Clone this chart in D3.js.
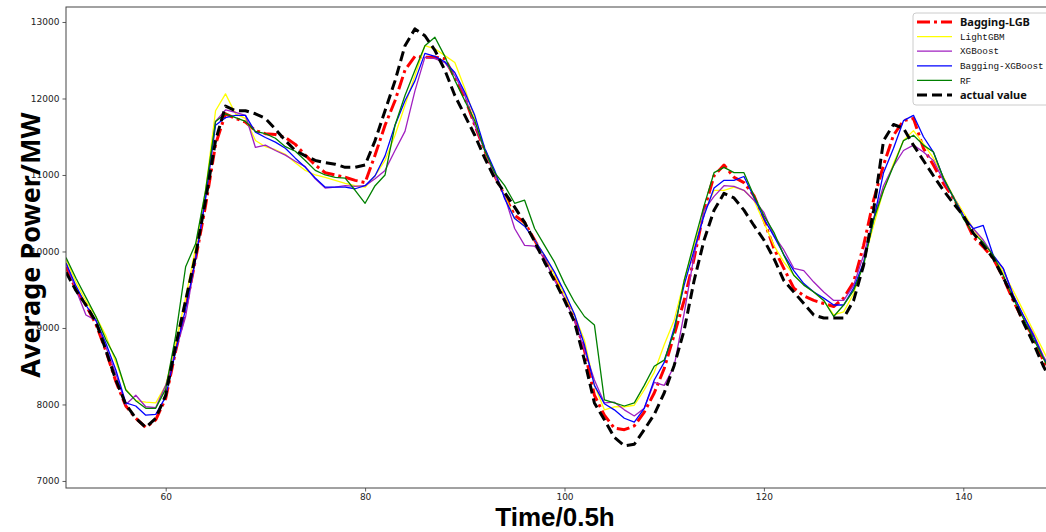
<!DOCTYPE html>
<html>
<head>
<meta charset="utf-8">
<script src="https://cdn.jsdelivr.net/npm/d3@7"></script>
<style>
  body { margin: 0; background: #fff; }
  svg { display: block; }
</style>
</head>
<body>
<script>
// time steps (half hours) 50..150
const steps = d3.range(50, 151);

// series values, one per step
const baggingLGB = [9800,9500,9300,9050,8700,8300,7980,7820,7700,7800,8080,8700,9250,9900,10600,11400,11800,11740,11690,11580,
  11540,11530,11490,11400,11260,11130,11030,11000,10970,10930,10900,11260,11650,11970,12370,12550,12540,12540,12520,12270,
  12010,11650,11320,10990,10730,10470,10380,10150,9910,9680,9430,9130,8710,8120,7860,7690,7670,7720,7900,8150,
  8470,8910,9360,9910,10540,10990,11130,10970,10900,10730,10410,10040,9780,9520,9420,9360,9320,9280,9390,9600,
  10080,10670,11130,11520,11710,11740,11350,11130,10890,10700,10470,10190,10060,9910,9660,9360,9100,8890,8580,8300,8050];
const lightGBM = [9900,9600,9350,9150,8900,8550,8200,8050,8030,8020,8250,8800,9400,10050,10800,11840,12060,11800,11740,11450,
  11370,11330,11270,11160,11060,11000,10970,10930,10890,10860,10840,10990,11190,11520,11910,12300,12690,12650,12560,12470,
  12130,11740,11320,10990,10730,10430,10340,10150,9950,9690,9430,9170,8840,8250,7930,7970,7970,7990,8190,8420,
  8780,9100,9620,10080,10510,10800,10800,10840,10800,10670,10380,10080,9860,9690,9570,9470,9360,9170,9210,9450,
  9860,10340,10800,11150,11450,11580,11410,11220,10980,10720,10510,10300,10110,9950,9730,9490,9230,8970,8710,8450,8200];
const xgboost = [9850,9500,9170,9100,8750,8400,8000,8120,7970,7960,8250,8700,9150,9900,10700,11700,11850,11820,11780,11360,
  11390,11320,11260,11180,11110,10950,10830,10840,10860,10850,10860,10950,11060,11320,11570,12100,12540,12520,12470,12300,
  12040,11650,11320,10990,10720,10300,10080,10070,9910,9620,9390,9100,8710,8320,8020,8030,7930,7850,7950,8290,
  8250,8500,9190,9950,10540,10720,10860,10850,10800,10670,10510,10210,10020,9780,9750,9600,9470,9360,9360,9560,
  9950,10430,10860,11120,11320,11390,11300,11190,10930,10710,10470,10300,10150,9950,9780,9430,9170,8930,8640,8400,8150];
const baggingXGB = [9850,9550,9300,9100,8800,8450,8020,7980,7860,7870,8100,8700,9250,9900,10700,11650,11750,11780,11780,11560,
  11490,11430,11350,11220,11100,10960,10840,10840,10840,10820,10860,10990,11250,11650,11970,12230,12590,12550,12480,12340,
  12080,11780,11350,11060,10690,10430,10330,10150,9950,9730,9470,9180,8780,8250,8010,7930,7820,7770,7950,8320,
  8550,9000,9560,10020,10470,10830,10930,10930,10980,10710,10430,10200,9960,9750,9580,9470,9390,9300,9300,9520,
  9860,10410,11030,11350,11710,11780,11500,11300,10960,10710,10470,10300,10340,9950,9780,9430,9170,8910,8620,8380,8130];
const rf = [9920,9650,9400,9150,8850,8600,8190,8050,7950,7950,8200,8900,9800,10100,10800,11700,11800,11750,11700,11570,
  11540,11480,11370,11310,11190,11060,11000,10970,10960,10800,10630,10860,11000,11650,12040,12370,12690,12800,12550,12240,
  11970,11710,11320,11030,10860,10630,10670,10300,10080,9860,9580,9340,9150,9040,8060,8020,7980,8020,8250,8500,
  8580,8950,9620,10120,10600,11030,11100,11030,11030,10730,10470,10250,9950,9690,9560,9470,9360,9150,9300,9490,
  9820,10410,10800,11120,11450,11520,11390,11300,10960,10710,10430,10240,10120,9950,9690,9390,9130,8870,8610,8350,8100];
const actual = [9730,9490,9300,9080,8710,8320,8000,7820,7700,7820,8120,8770,9360,9950,10670,11450,11900,11840,11840,11800,
  11740,11600,11450,11320,11250,11190,11160,11140,11100,11100,11130,11450,11840,12230,12690,12910,12820,12630,12370,12040,
  11780,11520,11220,10955,10770,10580,10380,10130,9860,9620,9360,9080,8580,8020,7800,7570,7460,7480,7670,7870,
  8150,8510,8970,9620,10150,10540,10760,10700,10540,10340,10150,9910,9620,9470,9320,9170,9130,9130,9130,9360,
  9820,10540,11450,11660,11610,11390,11190,10990,10800,10630,10470,10240,10080,9910,9660,9390,9080,8810,8510,8250,8000];

const seriesNames = ['Bagging-LGB', 'LightGBM', 'XGBoost', 'Bagging-XGBoost', 'RF', 'actual value'];
const seriesValues = [baggingLGB, lightGBM, xgboost, baggingXGB, rf, actual];
const seriesColors = ['#ff0000', '#ffff00', '#a020c0', '#0000ff', '#008000', '#000000'];

const xTicks = [60, 80, 100, 120, 140];
const yTicks = [7000, 8000, 9000, 10000, 11000, 12000, 13000];

const width = 1046, height = 532;
const margin = {left: 66, top: 7, right: 1063, bottom: 488};

const svg = d3.select('body').append('svg')
  .attr('width', width)
  .attr('height', height);

const x = d3.scaleLinear().domain([50, 150]).range([margin.left, margin.right]);
const y = d3.scaleLinear().domain([6908, 13196]).range([margin.bottom, margin.top]);

svg.append('clipPath').attr('id', 'plot-clip')
  .append('rect')
  .attr('x', margin.left).attr('y', margin.top)
  .attr('width', margin.right - margin.left).attr('height', margin.bottom - margin.top);

// axes
const xAxis = svg.append('g')
  .attr('transform', `translate(0,${margin.bottom})`)
  .call(d3.axisBottom(x).tickValues(xTicks).tickSize(3.5).tickPadding(2));
const yAxis = svg.append('g')
  .attr('transform', `translate(${margin.left},0)`)
  .call(d3.axisLeft(y).tickValues(yTicks).tickSize(3.5).tickPadding(3).tickFormat(d3.format('d')));

[xAxis, yAxis].forEach(ax => {
  ax.select('.domain').remove();
  ax.selectAll('line').attr('stroke', '#333').attr('stroke-width', 0.8);
  ax.selectAll('text')
    .attr('fill', '#222')
    .style('font-family', 'DejaVu Sans, sans-serif')
    .style('font-size', '9px');
});

// lines
const line = d3.line()
  .x((d, i) => x(steps[i]))
  .y(d => y(d));

const plot = svg.append('g').attr('clip-path', 'url(#plot-clip)');

const styles = [
  {w: 3, dash: '13,4,3,4'},
  {w: 1.3, dash: null},
  {w: 1.3, dash: null},
  {w: 1.3, dash: null},
  {w: 1.3, dash: null},
  {w: 3, dash: '10,5'}
];

seriesValues.forEach((vals, i) => {
  plot.append('path')
    .datum(vals)
    .attr('fill', 'none')
    .attr('stroke', seriesColors[i])
    .attr('stroke-width', styles[i].w)
    .attr('stroke-dasharray', styles[i].dash)
    .attr('stroke-linejoin', 'round')
    .attr('d', line);
});

// frame
svg.append('rect')
  .attr('x', margin.left).attr('y', margin.top)
  .attr('width', margin.right - margin.left).attr('height', margin.bottom - margin.top)
  .attr('fill', 'none')
  .attr('stroke', '#444')
  .attr('stroke-width', 1);

// legend
const legend = svg.append('g').attr('transform', 'translate(913,13)');
legend.append('rect')
  .attr('width', 150).attr('height', 92)
  .attr('rx', 3)
  .attr('fill', '#fff')
  .attr('fill-opacity', 0.85)
  .attr('stroke', '#ccc');

const boldNames = ['Bagging-LGB', 'actual value'];
seriesNames.forEach((name, i) => {
  const bold = boldNames.includes(name);
  const row = legend.append('g').attr('transform', `translate(0,${9 + i * 14.6})`);
  row.append('line')
    .attr('x1', 4).attr('x2', 39)
    .attr('stroke', seriesColors[i])
    .attr('stroke-width', styles[i].w)
    .attr('stroke-dasharray', styles[i].dash);
  row.append('text')
    .attr('x', 47).attr('dy', '0.35em')
    .style('font-family', bold ? 'Noto Sans, sans-serif' : 'Liberation Mono, monospace')
    .style('font-weight', bold ? 'bold' : 'normal')
    .style('font-size', bold ? '11px' : '9.3px')
    .attr('fill', '#111')
    .text(name);
});

// axis labels
svg.append('text')
  .attr('x', 555).attr('y', 526)
  .attr('text-anchor', 'middle')
  .style('font-family', 'Liberation Sans, sans-serif')
  .style('font-weight', 'bold')
  .style('font-size', '26px')
  .text('Time/0.5h');

svg.append('text')
  .attr('transform', 'translate(40,245) rotate(-90)')
  .attr('text-anchor', 'middle')
  .style('font-family', 'Noto Sans, sans-serif')
  .style('font-weight', 'bold')
  .style('font-size', '27px')
  .text('Average Power/MW');
</script>
</body>
</html>
